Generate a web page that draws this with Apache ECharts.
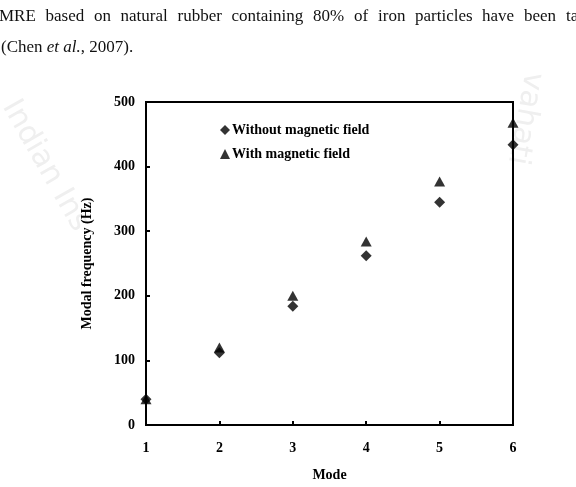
<!DOCTYPE html>
<html>
<head>
<meta charset="utf-8">
<script src="https://cdn.jsdelivr.net/npm/echarts@6/dist/echarts.min.js"></script>
<style>html,body{margin:0;padding:0;background:#fff;}#c{width:576px;height:487px;}</style>
</head>
<body>
<div id="c"></div>
<script>
var modes = [1, 2, 3, 4, 5, 6];
var withoutField = [40, 112, 184, 262, 345, 434];
var withField = [40, 120, 200, 284, 377, 468];
var yTicks = [0, 100, 200, 300, 400, 500];
var xTicks = [1, 2, 3, 4, 5, 6];
var seriesNames = ['Without magnetic field', 'With magnetic field'];
var line1Words = ['MRE', 'based', 'on', 'natural', 'rubber', 'containing', '80%', 'of', 'iron', 'particles', 'have', 'been', 'ta'];
var line1X = [-1, 45.5, 94, 120.5, 177.5, 231.5, 313, 354, 378, 415, 482, 524, 566];

var serif = '"Liberation Serif", "Times New Roman", serif';
var chart = echarts.init(document.getElementById('c'), null, {renderer: 'canvas'});

var graphics = [];
line1Words.forEach(function (w, i) {
  graphics.push({type: 'text', left: line1X[i], top: 8, silent: true,
    style: {text: w, font: '17px ' + serif, fill: '#111'}});
});
graphics.push({type: 'text', left: 1, top: 39, silent: true,
  style: {text: '(Chen {i|et al.}, 2007).', font: '17px ' + serif, fill: '#111',
    rich: {i: {fontStyle: 'italic', fontFamily: serif, fontSize: 17, fill: '#111'}}}});
graphics.push({type: 'text', x: 22, y: 95, rotation: -1.05, silent: true, z: -1,
  style: {text: 'Indian Ins', font: '30px "DejaVu Sans", sans-serif', fill: '#efefef'}});
graphics.push({type: 'text', x: 548, y: 75, rotation: -1.75, silent: true, z: -1,
  style: {text: 'vahati', font: '30px "DejaVu Sans", sans-serif', fill: '#efefef'}});

var option = {
  backgroundColor: '#fff',
  animation: false,
  graphic: graphics,
  grid: {left: 146, right: 63, top: 102, bottom: 56, show: true, borderColor: '#000', borderWidth: 2, backgroundColor: 'transparent'},
  legend: {
    data: [{name: seriesNames[0], icon: 'diamond'}, {name: seriesNames[1], icon: 'triangle'}],
    orient: 'vertical', left: 215, top: 118, itemWidth: 10, itemHeight: 10, itemGap: 10,
    textStyle: {fontFamily: serif, fontWeight: 'bold', fontSize: 14, color: '#000', padding: [0, 0, 0, -3]},
    selectedMode: false
  },
  xAxis: {
    type: 'value', min: 1, max: 6, interval: 1,
    name: 'Mode', nameLocation: 'middle', nameGap: 43,
    nameTextStyle: {fontFamily: serif, fontWeight: 'bold', fontSize: 14, color: '#000'},
    axisLine: {show: true, onZero: false, lineStyle: {color: '#000', width: 2}},
    axisTick: {show: true, inside: true, length: 4, lineStyle: {color: '#000', width: 2}},
    axisLabel: {fontFamily: serif, fontWeight: 'bold', fontSize: 14, color: '#000', margin: 16,
      formatter: function (v) { return xTicks.indexOf(v) >= 0 ? String(v) : ''; }},
    splitLine: {show: false}
  },
  yAxis: {
    type: 'value', min: 0, max: 500, interval: 100,
    name: 'Modal frequency (Hz)', nameLocation: 'middle', nameGap: 52,
    nameTextStyle: {fontFamily: serif, fontWeight: 'bold', fontSize: 14, color: '#000'},
    axisLine: {show: true, onZero: false, lineStyle: {color: '#000', width: 2}},
    axisTick: {show: true, inside: true, length: 4, lineStyle: {color: '#000', width: 2}},
    axisLabel: {fontFamily: serif, fontWeight: 'bold', fontSize: 14, color: '#000', margin: 11,
      formatter: function (v) { return yTicks.indexOf(v) >= 0 ? String(v) : ''; }},
    splitLine: {show: false}
  },
  series: [
    {name: seriesNames[1], type: 'scatter', symbol: 'triangle', symbolSize: [11, 10], clip: false,
      itemStyle: {color: '#000'}, data: modes.map(function (m, i) { return [m, withField[i]]; }), z: 2},
    {name: seriesNames[0], type: 'scatter', symbol: 'diamond', symbolSize: [11, 11], clip: false,
      itemStyle: {color: '#000'}, data: modes.map(function (m, i) { return [m, withoutField[i]]; }), z: 3}
  ]
};
chart.setOption(option);
</script>
</body>
</html>
